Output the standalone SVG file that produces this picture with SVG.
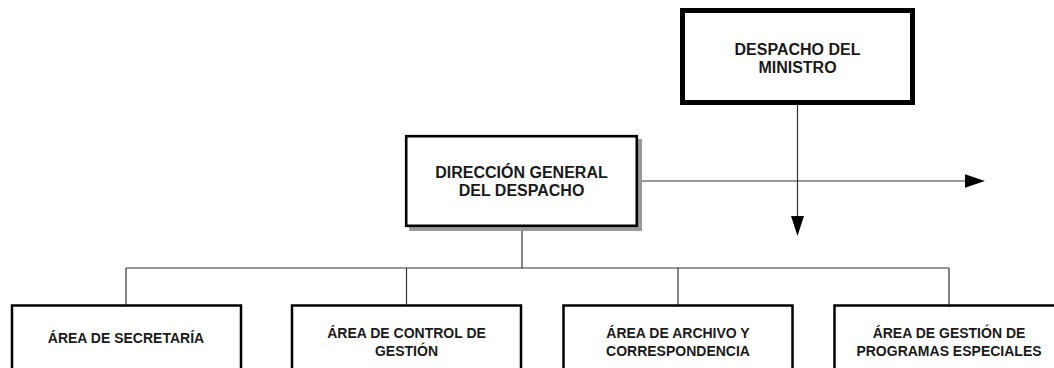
<svg xmlns="http://www.w3.org/2000/svg" width="1054" height="368" viewBox="0 0 1054 368">
<style>
.t{font-family:"Liberation Sans",Arial,sans-serif;font-weight:bold;fill:#1a1a1a;text-anchor:middle}
.t16{font-size:16px}
.t14{font-size:14px}
.box{fill:#fff;stroke:#000}
.ln{stroke:#333;stroke-width:1.2;fill:none}
.ah{fill:#000}
</style>
<rect width="1054" height="368" fill="#fff"/>
<g id="connectors">
<line class="ln" x1="797.5" y1="105" x2="797.5" y2="218"/>
<polygon class="ah" points="791,216 804,216 797.5,236"/>
<line class="ln" x1="639" y1="181" x2="967" y2="181"/>
<polygon class="ah" points="965,174.3 965,187.7 985,181"/>
<line class="ln" x1="522" y1="228" x2="522" y2="268"/>
<line class="ln" x1="126" y1="268" x2="949" y2="268"/>
<line class="ln" x1="126" y1="268" x2="126" y2="305"/>
<line class="ln" x1="406.5" y1="268" x2="406.5" y2="305"/>
<line class="ln" x1="678" y1="268" x2="678" y2="305"/>
<line class="ln" x1="949" y1="268" x2="949" y2="305"/>
</g>
<g id="despacho-ministro">
<rect class="box" x="682.5" y="10.5" width="230" height="92" stroke-width="5"/>
<text class="t t16" x="797.5" y="55">DESPACHO DEL</text>
<text class="t t16" x="797.5" y="73">MINISTRO</text>
</g>
<g id="direccion-general">
<rect x="409" y="139" width="233" height="92" fill="#999"/>
<rect class="box" x="406.2" y="136.2" width="230.6" height="89.6" stroke-width="2.6"/>
<text class="t t16" x="521.5" y="177.5">DIRECCIÓN GENERAL</text>
<text class="t t16" x="521.5" y="195.5">DEL DESPACHO</text>
</g>
<g id="area-secretaria">
<rect class="box" x="12" y="305.5" width="229" height="80" stroke-width="2.5"/>
<text class="t t14" x="126" y="343">ÁREA DE SECRETARÍA</text>
</g>
<g id="area-control-gestion">
<rect class="box" x="292" y="305.5" width="229" height="80" stroke-width="2.5"/>
<text class="t t14" x="406.5" y="337.5">ÁREA DE CONTROL DE</text>
<text class="t t14" x="406.5" y="355.5">GESTIÓN</text>
</g>
<g id="area-archivo">
<rect class="box" x="563.5" y="305.5" width="229" height="80" stroke-width="2.5"/>
<text class="t t14" x="678" y="337.5">ÁREA DE ARCHIVO Y</text>
<text class="t t14" x="678" y="355.5">CORRESPONDENCIA</text>
</g>
<g id="area-programas">
<rect class="box" x="834.5" y="305.5" width="229" height="80" stroke-width="2.5"/>
<text class="t t14" x="949" y="337.5">ÁREA DE GESTIÓN DE</text>
<text class="t t14" x="949" y="355.5">PROGRAMAS ESPECIALES</text>
</g>
</svg>
